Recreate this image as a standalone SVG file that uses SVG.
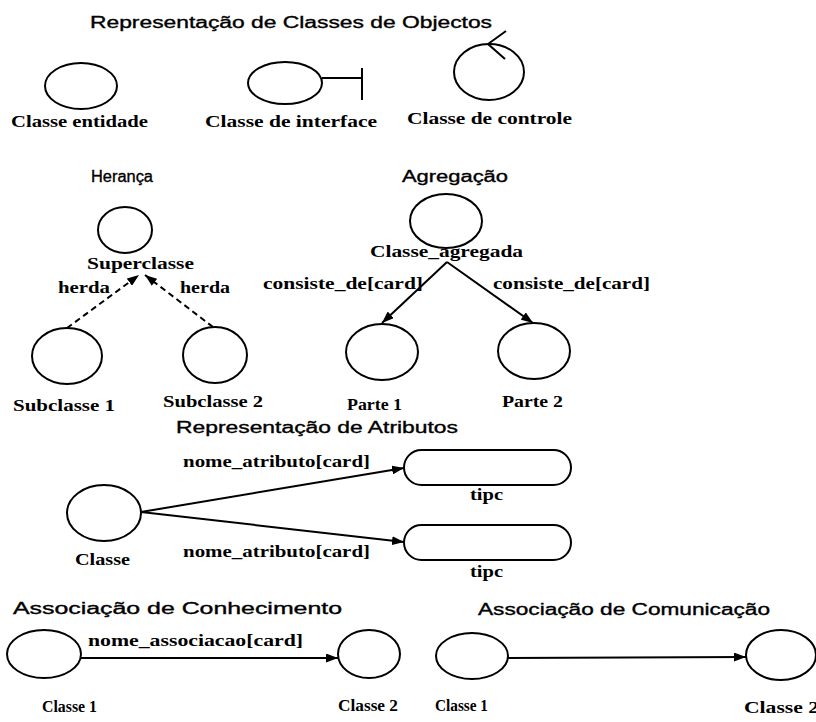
<svg xmlns="http://www.w3.org/2000/svg" width="816" height="722" viewBox="0 0 816 722">
<defs>
<style>
.t{font-family:"Liberation Sans",Arial,sans-serif;font-size:16px;fill:#000;stroke:#000;stroke-width:0.35}
.l{font-family:"Liberation Serif","Times New Roman",serif;font-size:16px;font-weight:bold;fill:#000}
.n{fill:none;stroke:#000;stroke-width:2}
.c{fill:none;stroke:#000;stroke-width:2}
.d{fill:none;stroke:#000;stroke-width:2;stroke-dasharray:6,4}
</style>
<marker id="ah" viewBox="0 0 12 9" refX="12" refY="4.5" markerWidth="12" markerHeight="9" markerUnits="userSpaceOnUse" orient="auto">
<path d="M0,0 L12,4.5 L0,9 z" fill="#000"/>
</marker>
</defs>
<rect width="816" height="722" fill="#fff"/>

<text class="t" x="90" y="28" textLength="402" lengthAdjust="spacingAndGlyphs">Representação de Classes de Objectos</text>
<g id="entidade">
<ellipse class="n" cx="81" cy="86" rx="36" ry="23"/>
<text class="l" x="11" y="127" textLength="137" lengthAdjust="spacingAndGlyphs">Classe entidade</text>
</g>
<g id="interface">
<ellipse class="n" cx="285" cy="83" rx="37" ry="21"/>
<path class="n" d="M322,78 H362 M362,68 V100"/>
<text class="l" x="205" y="127" textLength="172" lengthAdjust="spacingAndGlyphs">Classe de interface</text>
</g>
<g id="controle">
<ellipse class="n" cx="489" cy="72" rx="35" ry="28"/>
<path class="n" d="M506,31 L488,44 L505,59" stroke-width="2.5"/>
<text class="l" x="407" y="124" textLength="165" lengthAdjust="spacingAndGlyphs">Classe de controle</text>
</g>

<text class="t" x="91" y="182" font-size="17" textLength="62" lengthAdjust="spacingAndGlyphs">Herança</text>
<g id="superclasse">
<ellipse class="n" cx="125" cy="230" rx="27" ry="23"/>
<text class="l" x="87" y="269" textLength="107" lengthAdjust="spacingAndGlyphs">Superclasse</text>
</g>
<g id="subclasse1">
<ellipse class="n" cx="67" cy="356" rx="35" ry="28"/>
<text class="l" x="13" y="411" textLength="102" lengthAdjust="spacingAndGlyphs">Subclasse 1</text>
</g>
<g id="subclasse2">
<ellipse class="n" cx="215" cy="355" rx="32" ry="28"/>
<text class="l" x="163" y="407" textLength="100" lengthAdjust="spacingAndGlyphs">Subclasse 2</text>
</g>

<text class="t" x="402" y="182" textLength="106" lengthAdjust="spacingAndGlyphs">Agregação</text>
<g id="agregada">
<ellipse class="n" cx="446" cy="221" rx="36" ry="27"/>
<text class="l" x="370" y="257" textLength="153" lengthAdjust="spacingAndGlyphs">Classe_agregada</text>
</g>
<g id="parte1">
<ellipse class="n" cx="382" cy="352" rx="36" ry="28"/>
<text class="l" x="347" y="410" textLength="55" lengthAdjust="spacingAndGlyphs">Parte 1</text>
</g>
<g id="parte2">
<ellipse class="n" cx="534" cy="351" rx="36" ry="28"/>
<text class="l" x="502" y="407" textLength="61" lengthAdjust="spacingAndGlyphs">Parte 2</text>
</g>

<text class="t" x="176" y="433" textLength="282" lengthAdjust="spacingAndGlyphs">Representação de Atributos</text>
<g id="classe">
<ellipse class="n" cx="104" cy="513" rx="37" ry="28"/>
<text class="l" x="75" y="565" textLength="55" lengthAdjust="spacingAndGlyphs">Classe</text>
</g>
<g id="tipo1">
<rect class="n" x="404" y="450" width="167" height="35" rx="17.5"/>
<text class="l" x="470" y="500" textLength="33" lengthAdjust="spacingAndGlyphs">tipc</text>
</g>
<g id="tipo2">
<rect class="n" x="404" y="525" width="167" height="35" rx="17.5"/>
<text class="l" x="470" y="577" textLength="33" lengthAdjust="spacingAndGlyphs">tipc</text>
</g>

<text class="t" x="13" y="614" textLength="329" lengthAdjust="spacingAndGlyphs">Associação de Conhecimento</text>
<g id="conh1">
<ellipse class="n" cx="44" cy="654" rx="37" ry="24"/>
<text class="l" x="42" y="712" textLength="55" lengthAdjust="spacingAndGlyphs">Classe 1</text>
</g>
<g id="conh2">
<ellipse class="n" cx="369" cy="654" rx="31" ry="24"/>
<text class="l" x="338" y="711" textLength="60" lengthAdjust="spacingAndGlyphs">Classe 2</text>
</g>

<text class="t" x="478" y="615" textLength="292" lengthAdjust="spacingAndGlyphs">Associação de Comunicação</text>
<g id="com1">
<ellipse class="n" cx="472" cy="656" rx="36" ry="23"/>
<text class="l" x="435" y="711" textLength="53" lengthAdjust="spacingAndGlyphs">Classe 1</text>
</g>
<g id="com2">
<ellipse class="n" cx="781" cy="655" rx="35" ry="25"/>
<text class="l" x="744" y="713" textLength="75" lengthAdjust="spacingAndGlyphs">Classe 2</text>
</g>

<g id="connectors">
<line class="d" x1="67" y1="328" x2="139" y2="275" marker-end="url(#ah)"/>
<line class="d" x1="213" y1="327" x2="145" y2="275" marker-end="url(#ah)"/>
<text class="l" x="58" y="293" textLength="52" lengthAdjust="spacingAndGlyphs">herda</text>
<text class="l" x="180" y="293" textLength="50" lengthAdjust="spacingAndGlyphs">herda</text>
<line class="c" x1="447" y1="262" x2="382" y2="323" marker-end="url(#ah)"/>
<line class="c" x1="447" y1="262" x2="533" y2="323" marker-end="url(#ah)"/>
<text class="l" x="263" y="289" textLength="160" lengthAdjust="spacingAndGlyphs">consiste_de[card]</text>
<text class="l" x="493" y="289" textLength="157" lengthAdjust="spacingAndGlyphs">consiste_de[card]</text>
<line class="c" x1="141" y1="512" x2="404" y2="468" marker-end="url(#ah)"/>
<line class="c" x1="141" y1="512" x2="404" y2="542" marker-end="url(#ah)"/>
<text class="l" x="183" y="467" textLength="187" lengthAdjust="spacingAndGlyphs">nome_atributo[card]</text>
<text class="l" x="183" y="557" textLength="187" lengthAdjust="spacingAndGlyphs">nome_atributo[card]</text>
<line class="c" x1="81" y1="658" x2="338" y2="658" marker-end="url(#ah)"/>
<text class="l" x="88" y="646" textLength="215" lengthAdjust="spacingAndGlyphs">nome_associacao[card]</text>
<line class="c" x1="508" y1="658" x2="746" y2="657" marker-end="url(#ah)"/>
</g>
</svg>
